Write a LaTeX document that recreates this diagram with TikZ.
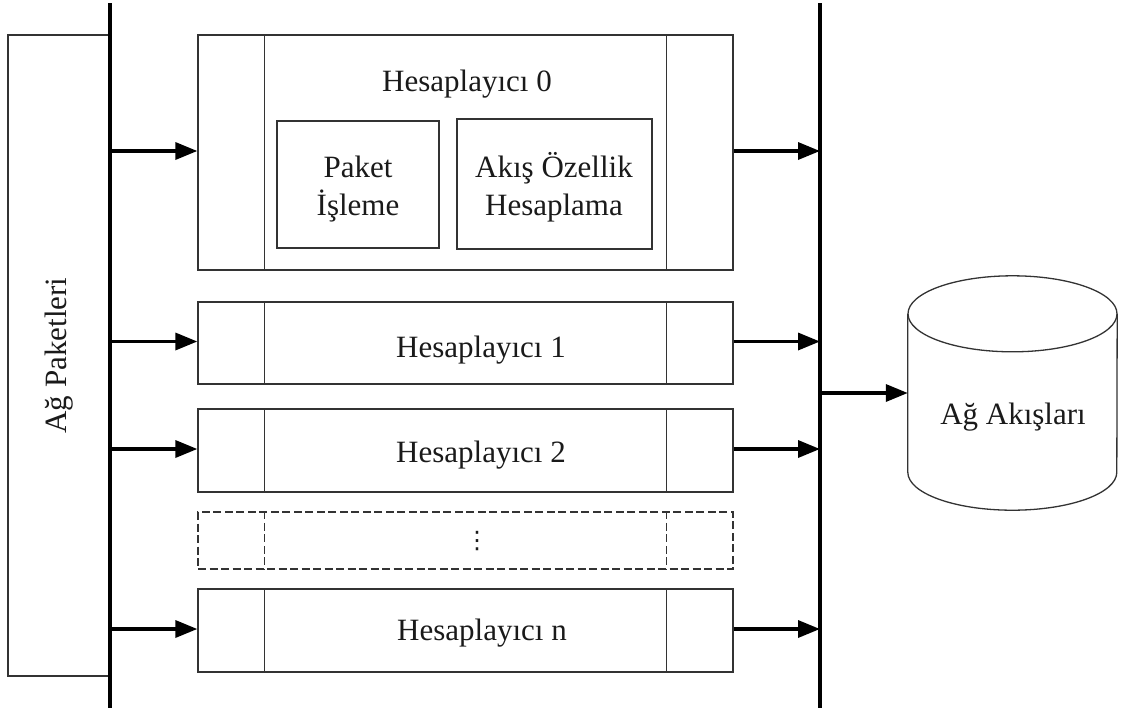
\documentclass[tikz,border=0pt]{standalone}
\usepackage{fontspec}
\setmainfont{Liberation Serif}
\newfontfamily\symbolfont{DejaVu Sans}
\usetikzlibrary{arrows.meta}

\definecolor{ink}{HTML}{1A1A1A}
\definecolor{frame}{HTML}{333333}

\begin{document}
\begin{tikzpicture}[x=1pt, y=-1pt,
  every node/.style={font=\fontsize{31}{38}\selectfont, text=ink, inner sep=0pt},
  label/.style={anchor=base, align=center},
  box/.style={draw=frame, line width=1.3pt, minimum width=535pt},
  inbox/.style={draw=frame, line width=1.3pt},
  ghost/.style={box, dashed, dash pattern=on 8pt off 3.5pt},
  bus/.style={line width=4.5pt, black},
  feed/.style={line width=3.4pt, black, -{Triangle[length=22pt, width=17pt]}},
  divider/.style={draw=frame, line width=1.3pt}]

  \useasboundingbox (0,0) rectangle (1122,713);

  % input packet store with its rotated label
  \node[draw=frame, line width=1.3pt, minimum width=102pt, minimum height=641pt]
    (pk) at (59,355.5) {\rotatebox{90}{Ağ Paketleri}};

  % the two buses
  \coordinate (busLtop) at (110,3);
  \coordinate (busLbot) at (110,708);
  \coordinate (busRtop) at (820,3);
  \coordinate (busRbot) at (820,708);

  % calculator 0 with its two stages (two-line labels sit on their last baseline)
  \node[box, minimum height=235pt] (h0) at (465.5,152.5) {};
  \node[label] (h0title) at (467,91) {Hesaplayıcı 0};
  \node[inbox, minimum width=162pt, minimum height=127pt] (pp) at (358,184.5) {};
  \node[label] (pptext) at (358,215) {Paket\\İşleme};
  \node[inbox, minimum width=195pt, minimum height=130pt] (fc) at (554.5,184) {};
  \node[label] (fctext) at (554,215) {Akış Özellik\\Hesaplama};

  % the other calculators
  \node[box, minimum height=82pt] (h1) at (465.5,343) {};
  \node[label] (h1text) at (481,357) {Hesaplayıcı 1};
  \node[box, minimum height=83pt] (h2) at (465.5,450.5) {};
  \node[label] (h2text) at (481,462) {Hesaplayıcı 2};
  \node[ghost, minimum height=57pt] (hd) at (465.5,540.5) {};
  \node[font=\symbolfont\fontsize{24}{28}\selectfont] (dots) at (477,541) {⋮};
  \node[box, minimum height=83pt] (hn) at (465.5,630.5) {};
  \node[label] (hntext) at (482,640) {Hesaplayıcı n};

  % input / output slots of every calculator
  \foreach \n in {h0,h1,h2,hn} {
    \draw[divider] ([xshift=67pt]\n.north west) -- ([xshift=67pt]\n.south west);
    \draw[divider] ([xshift=-67pt]\n.north east) -- ([xshift=-67pt]\n.south east);
  }
  \draw[divider, dashed, dash pattern=on 8pt off 3.5pt]
    ([xshift=67pt]hd.north west) -- ([xshift=67pt]hd.south west);
  \draw[divider, dashed, dash pattern=on 8pt off 3.5pt]
    ([xshift=-67pt]hd.north east) -- ([xshift=-67pt]hd.south east);

  % flow store (cylinder)
  \node[minimum width=209pt, minimum height=158pt] (flows) at (1012.5,393) {};
  \node[label] (flowslbl) at (1013,424) {Ağ Akışları};
  \draw[frame, line width=1.3pt]
    (flows.north west) -- (flows.south west)
    arc[start angle=180, end angle=360, x radius=104.5pt, y radius=38pt]
    -- (flows.north east);
  \draw[frame, line width=1.3pt] (flows.north) ellipse [x radius=104.5pt, y radius=38pt];

  % buses drawn over the frames they touch
  \draw[bus] (busLtop) -- (busLbot);
  \draw[bus] (busRtop) -- (busRbot);

  % packet feeds and results
  \foreach \n in {h0,h1,h2,hn} {
    \draw[feed] ([yshift=1.5pt]\n.west -| busLtop) -- ([yshift=1.5pt]\n.west);
    \draw[feed] ([yshift=1.5pt]\n.east) -- ([yshift=1.5pt]\n.east -| busRtop);
  }
  \draw[feed] (flows.west -| busRtop) -- (flows.west);
\end{tikzpicture}
\end{document}
